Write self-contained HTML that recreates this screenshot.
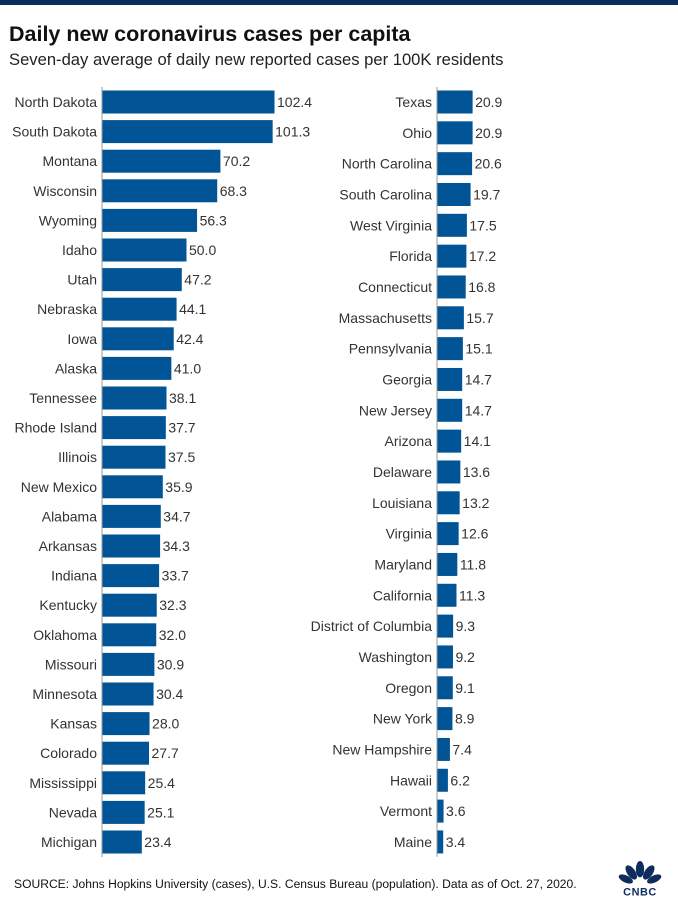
<!DOCTYPE html>
<html><head><meta charset="utf-8"><style>
body{margin:0;width:678px;height:916px;background:#fff;font-family:"Liberation Sans",sans-serif;overflow:hidden;position:relative}
#topbar{position:absolute;left:0;top:0;width:678px;height:5px;background:#0c2d5e}
#title{position:absolute;left:9px;top:22px;font-size:21.5px;font-weight:bold;color:#111}
#subtitle{position:absolute;left:9px;top:50px;font-size:16.6px;color:#222}
#source{position:absolute;left:14px;top:877px;font-size:12.1px;color:#111}
svg text{font-family:"Liberation Sans",sans-serif;font-size:14px;fill:#333}
</style></head><body>
<div id="topbar"></div>
<div id="title">Daily new coronavirus cases per capita</div>
<div id="subtitle">Seven-day average of daily new reported cases per 100K residents</div>
<svg id="chart" width="678" height="916" style="position:absolute;left:0;top:0"></svg>
<div id="source">SOURCE: Johns Hopkins University (cases), U.S. Census Bureau (population). Data as of Oct. 27, 2020.</div>
<svg width="48" height="38" viewBox="0 0 44 34" style="position:absolute;left:616px;top:860px">
<g fill="#0c2d5e">
<ellipse cx="22" cy="8" rx="3.8" ry="7.5"/>
<ellipse cx="14" cy="11" rx="3.8" ry="7.5" transform="rotate(-35 14 11)"/>
<ellipse cx="30" cy="11" rx="3.8" ry="7.5" transform="rotate(35 30 11)"/>
<ellipse cx="9" cy="17" rx="3.3" ry="7" transform="rotate(-65 9 17)"/>
<ellipse cx="35" cy="17" rx="3.3" ry="7" transform="rotate(65 35 17)"/>
</g>
<text x="22" y="32" text-anchor="middle" style="font-size:10px;font-weight:bold;fill:#0c2d5e;letter-spacing:0.5px">CNBC</text>
</svg>
<script>
const leftStates=["North Dakota","South Dakota","Montana","Wisconsin","Wyoming","Idaho","Utah","Nebraska","Iowa","Alaska","Tennessee","Rhode Island","Illinois","New Mexico","Alabama","Arkansas","Indiana","Kentucky","Oklahoma","Missouri","Minnesota","Kansas","Colorado","Mississippi","Nevada","Michigan"];
const leftValues=[102.4,101.3,70.2,68.3,56.3,50.0,47.2,44.1,42.4,41.0,38.1,37.7,37.5,35.9,34.7,34.3,33.7,32.3,32.0,30.9,30.4,28.0,27.7,25.4,25.1,23.4];
const rightStates=["Texas","Ohio","North Carolina","South Carolina","West Virginia","Florida","Connecticut","Massachusetts","Pennsylvania","Georgia","New Jersey","Arizona","Delaware","Louisiana","Virginia","Maryland","California","District of Columbia","Washington","Oregon","New York","New Hampshire","Hawaii","Vermont","Maine"];
const rightValues=[20.9,20.9,20.6,19.7,17.5,17.2,16.8,15.7,15.1,14.7,14.7,14.1,13.6,13.2,12.6,11.8,11.3,9.3,9.2,9.1,8.9,7.4,6.2,3.6,3.4];
const NS="http://www.w3.org/2000/svg";
const svg=document.getElementById('chart');
const scale=172/102.4;
function panel(states,vals,x0,y0,pitch,side){
  const ax=document.createElementNS(NS,'line');
  ax.setAttribute('x1',x0);ax.setAttribute('x2',x0);
  ax.setAttribute('y1',y0-15);ax.setAttribute('y2',y0+pitch*(states.length-1)+15);
  ax.setAttribute('stroke','#999');ax.setAttribute('stroke-width','1');
  
  
  svg.appendChild(ax);
  states.forEach((s,i)=>{
    const cy=y0+i*pitch;
    const w=vals[i]*scale;
    const r=document.createElementNS(NS,'rect');
    r.setAttribute('x',x0+0.5);r.setAttribute('y',cy-11.5);
    r.setAttribute('width',w);r.setAttribute('height',23);
    r.setAttribute('fill','#015596');
    
    
    svg.appendChild(r);
    const t=document.createElementNS(NS,'text');
    t.setAttribute('x',x0-5);t.setAttribute('y',cy+5);
    t.setAttribute('text-anchor','end');t.textContent=s;
    
    
    svg.appendChild(t);
    const v=document.createElementNS(NS,'text');
    v.setAttribute('x',x0+w+3);v.setAttribute('y',cy+5);
    v.textContent=vals[i].toFixed(1);
    
    
    svg.appendChild(v);
  });
}
panel(leftStates,leftValues,102,102,29.6,'left');
panel(rightStates,rightValues,437,102,30.83,'right');
</script>
</body></html>
